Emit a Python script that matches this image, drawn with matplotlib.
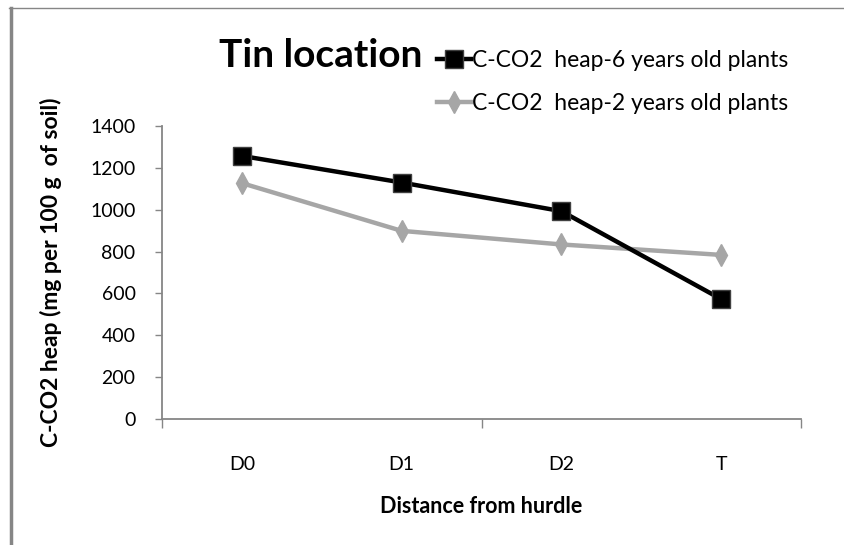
import matplotlib
matplotlib.use("Agg")
import matplotlib.pyplot as plt
from matplotlib.lines import Line2D

plt.rcParams['font.family'] = ['Lato', 'DejaVu Sans']

categories = ["D0", "D1", "D2", "T"]
heap6 = [1257, 1130, 993, 573]
heap2 = [1127, 899, 834, 784]
label6 = "C-CO2  heap-6 years old plants"
label2 = "C-CO2  heap-2 years old plants"
yticks = [0, 200, 400, 600, 800, 1000, 1200, 1400]

W, H = 844, 545
fig = plt.figure(figsize=(W / 100, H / 100), dpi=100)
ax = fig.add_axes([162 / W, 1 - 419 / H, (801 - 162) / W, (419 - 126) / H])

x = list(range(len(categories)))
axis_col = "#868686"
l6, = ax.plot(x, heap6, color="black", lw=3.2, marker="s", ms=12.5,
              mfc="black", mec="#404040", mew=1, label=label6, zorder=3)
l2, = ax.plot(x, heap2, color="#a6a6a6", lw=3.2, marker="d", ms=11,
              mfc="#a6a6a6", mec="#a6a6a6", label=label2, zorder=2)

ax.set_xlim(-0.5, len(categories) - 0.5)
ax.set_ylim(0, 1400)
ax.set_yticks(yticks)
ax.set_yticklabels([str(v) for v in yticks], fontsize=14)
ax.set_xticks([-0.5, 1.5, 3.5])
ax.set_xticklabels([])
ax.set_xticks(x, minor=True)
ax.set_xticklabels(categories, minor=True, fontsize=14)
ax.tick_params(axis="x", which="major", length=6.5, width=1, color=axis_col, direction="out")
ax.tick_params(axis="x", which="minor", length=0, pad=27)
ax.tick_params(axis="y", length=5, width=1, color=axis_col, pad=14)
for s in ["top", "right"]:
    ax.spines[s].set_visible(False)
for s in ["left", "bottom"]:
    ax.spines[s].set_color(axis_col)
    ax.spines[s].set_linewidth(1.3)

ax.set_xlabel("Distance from hurdle", fontsize=15.5, fontweight="bold", labelpad=16)
ax.set_ylabel("C-CO2 heap (mg per 100 g  of soil)", fontsize=16.5, fontweight="bold", labelpad=20)

fig.text(219 / W, 1 - 55 / H, "Tin location", fontsize=28, fontweight="bold",
         ha="left", va="center")

fig.legend(handles=[l6, l2], loc="center left",
           bbox_to_anchor=(426 / W, 1 - 82 / H), frameon=False, fontsize=16.5,
           handlelength=1.45, handletextpad=0.05, labelspacing=0.95, borderpad=0)

# outer frame (left and top only visible)
fig.add_artist(Line2D([11 / W, 11 / W], [0, 1 - 8 / H], color=axis_col, lw=2.5,
                      transform=fig.transFigure))
fig.add_artist(Line2D([9 / W, 1], [1 - 8 / H, 1 - 8 / H], color=axis_col, lw=1,
                      transform=fig.transFigure))

fig.savefig("out.png", dpi=100, facecolor="white")
